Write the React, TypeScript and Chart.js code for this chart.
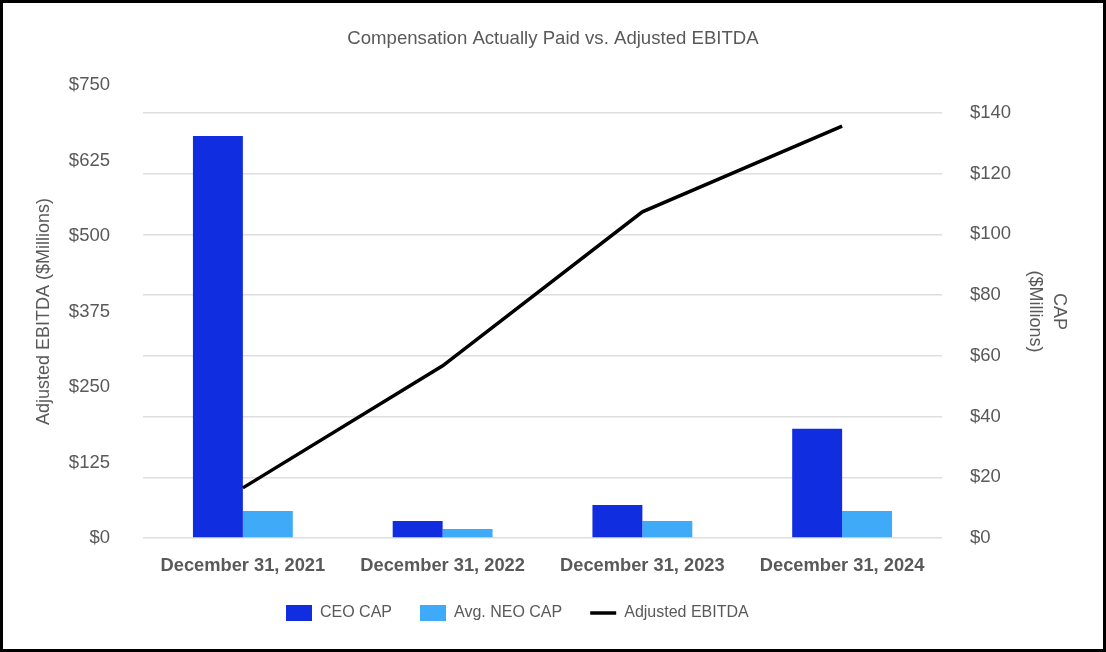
import React, { useEffect, useRef } from "react";
import { Chart, registerables } from "chart.js";

Chart.register(...registerables);

const categories = ["December 31, 2021", "December 31, 2022", "December 31, 2023", "December 31, 2024"];
const ceoCap = [132.4, 5.6, 10.9, 36.0];
const neoCap = [8.9, 3.0, 5.6, 8.9];
const adjustedEbitda = [83, 285, 540, 682];
const ebitdaTicks = [0, 125, 250, 375, 500, 625, 750];
const capTicks = [0, 20, 40, 60, 80, 100, 120, 140];
const capAxisMax = 149.2;

const FONT = "'Liberation Sans', Arial, Helvetica, sans-serif";
const TEXT = "#595959";

export default function App() {
  const ref = useRef<HTMLCanvasElement | null>(null);

  useEffect(() => {
    if (!ref.current) return;
    const legendShift = {
      id: "legendShift",
      afterLayout(chart: any) {
        const lg = chart.legend;
        if (lg) {
          const w = lg.right - lg.left;
          const h = lg.bottom - lg.top;
          lg.left = 255;
          lg.right = 255 + w;
          lg.top = 574;
          lg.bottom = 574 + h;
        }
      },
    };
    const chart = new Chart(ref.current, {
      type: "bar",
      data: {
        labels: categories,
        datasets: [
          {
            type: "bar",
            label: "CEO CAP",
            data: ceoCap,
            backgroundColor: "#102EE0",
            borderWidth: 0,
            yAxisID: "yR",
            order: 1,
            pointStyle: "rect",
            barPercentage: 1,
            categoryPercentage: 0.5,
          } as any,
          {
            type: "bar",
            label: "Avg. NEO CAP",
            data: neoCap,
            backgroundColor: "#3FAAF7",
            borderWidth: 0,
            yAxisID: "yR",
            order: 1,
            pointStyle: "rect",
            barPercentage: 1,
            categoryPercentage: 0.5,
          } as any,
          {
            type: "line",
            label: "Adjusted EBITDA",
            data: adjustedEbitda,
            borderColor: "#000000",
            backgroundColor: "#000000",
            borderWidth: 3.5,
            pointRadius: 0,
            pointHoverRadius: 0,
            pointStyle: "line",
            tension: 0,
            yAxisID: "yL",
            order: 0,
          } as any,
        ],
      },
      options: {
        animation: false,
        responsive: false,
        maintainAspectRatio: false,
        layout: { padding: { left: 0, right: 0, top: 0, bottom: 0 } },
        plugins: {
          title: {
            display: true,
            text: "Compensation Actually Paid vs. Adjusted EBITDA",
            color: TEXT,
            font: { family: FONT, size: 18.6, weight: "normal", lineHeight: 1.2 },
            padding: { top: 24.5, bottom: 35.2 },
          },
          legend: {
            display: true,
            position: "bottom",
            align: "start",
            labels: {
              usePointStyle: true,
              pointStyleWidth: 26,
              boxWidth: 26,
              boxHeight: 16,
              padding: 28,
              color: TEXT,
              font: { family: FONT, size: 16 },
              sort: (a: any, b: any) => a.datasetIndex - b.datasetIndex,
            },
          },
          tooltip: { enabled: false },
        },
        scales: {
          x: {
            grid: { display: false, drawTicks: false },
            border: { display: false },
            ticks: {
              color: TEXT,
              font: { family: FONT, size: 18.3, weight: "bold", lineHeight: 1.2 },
              padding: 17,
              maxRotation: 0,
            },
            afterFit: (s: any) => {
              s.height = 57;
            },
          },
          yL: {
            type: "linear",
            position: "left",
            min: 0,
            max: 750,
            grid: { display: false, drawTicks: false },
            border: { display: false },
            afterBuildTicks: (s: any) => {
              s.ticks = ebitdaTicks.map((v) => ({ value: v }));
            },
            ticks: {
              color: TEXT,
              font: { family: FONT, size: 18.5 },
              padding: 33,
              callback: (v: any) => "$" + v,
            },
            title: {
              display: true,
              text: "Adjusted EBITDA ($Millions)",
              color: TEXT,
              font: { family: FONT, size: 18, lineHeight: 1.2 },
              padding: { top: 30, bottom: 0 },
            },
            afterFit: (s: any) => {
              s.width = 140;
            },
          },
          yR: {
            type: "linear",
            position: "right",
            min: 0,
            max: capAxisMax,
            grid: { display: true, drawTicks: false, color: "#DEDEDE", lineWidth: 1.5 },
            border: { display: false },
            afterBuildTicks: (s: any) => {
              s.ticks = capTicks.map((v) => ({ value: v }));
            },
            ticks: {
              color: TEXT,
              font: { family: FONT, size: 18.5 },
              padding: 28,
              callback: (v: any) => "$" + v,
            },
            title: {
              display: true,
              text: ["CAP", "($Millions)"],
              color: TEXT,
              font: { family: FONT, size: 18, lineHeight: 1.36 },
              padding: { top: 31.75, bottom: 0 },
            },
            afterFit: (s: any) => {
              s.width = 161;
            },
          },
        },
      } as any,
      plugins: [legendShift],
    });
    return () => chart.destroy();
  }, []);

  return (
    <div
      style={{
        position: "absolute",
        left: 0,
        top: 0,
        width: 1106,
        height: 652,
        border: "3px solid #000",
        boxSizing: "border-box",
        background: "#fff",
      }}
    >
      <canvas ref={ref} width={1100} height={646} style={{ display: "block", width: 1100, height: 646 }} />
    </div>
  );
}
